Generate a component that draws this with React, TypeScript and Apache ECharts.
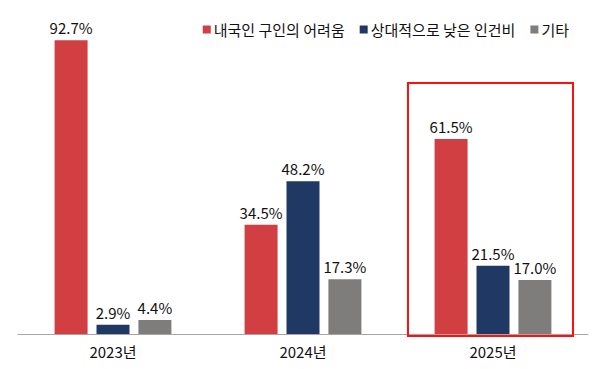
import React, { useEffect, useRef } from "react";
import * as echarts from "echarts";

const categories = ["2023년", "2024년", "2025년"];
const seriesNames = ["내국인 구인의 어려움", "상대적으로 낮은 인건비", "기타"];
const hardToHire = [92.7, 34.5, 61.5];
const lowWage = [2.9, 48.2, 21.5];
const others = [4.4, 17.3, 17.0];
const colors = ["#D13F42", "#1F3864", "#7F7C7C"];

const FONT = "'Noto Sans CJK KR', 'Noto Sans', sans-serif";

export default function App() {
  const ref = useRef<HTMLDivElement>(null);
  useEffect(() => {
    if (!ref.current) return;
    const chart = echarts.init(ref.current, undefined, { renderer: "svg" });
    const data = [hardToHire, lowWage, others];
    chart.setOption({
      animation: false,
      textStyle: { fontFamily: FONT },
      legend: {
        top: 17,
        right: 26,
        itemWidth: 8,
        itemHeight: 8,
        itemGap: 15,
        icon: "rect",
        textStyle: { fontSize: 15, color: "#111", fontFamily: FONT, padding: [0, 0, 0, -2] },
        data: seriesNames,
      },
      grid: { left: 18, right: 12, top: 17, bottom: 35 },
      xAxis: {
        type: "category",
        data: categories,
        axisLine: { lineStyle: { color: "#A6A6A6", width: 1 } },
        axisTick: { show: false },
        axisLabel: { fontSize: 15, color: "#111", margin: 10, fontFamily: FONT },
      },
      yAxis: {
        type: "value",
        min: 0,
        max: 100,
        show: false,
        splitLine: { show: false },
      },
      series: seriesNames.map((name, i) => ({
        name,
        type: "bar",
        data: data[i],
        barWidth: 33,
        barGap: "27%",
        itemStyle: { color: colors[i] },
        label: {
          show: true,
          position: "top",
          distance: 5,
          fontSize: 15,
          color: "#111",
          fontFamily: FONT,
          formatter: (p: any) => p.value.toFixed(1) + "%",
        },
      })),
      graphic: [
        {
          type: "rect",
          shape: { x: 408, y: 83, width: 165, height: 253 },
          style: { fill: "none", stroke: "#FF1010", lineWidth: 2 },
          z: 100,
        },
      ],
    });
    return () => chart.dispose();
  }, []);
  return (
    <div
      ref={ref}
      style={{ position: "absolute", left: 0, top: 0, width: 600, height: 369 }}
    />
  );
}
